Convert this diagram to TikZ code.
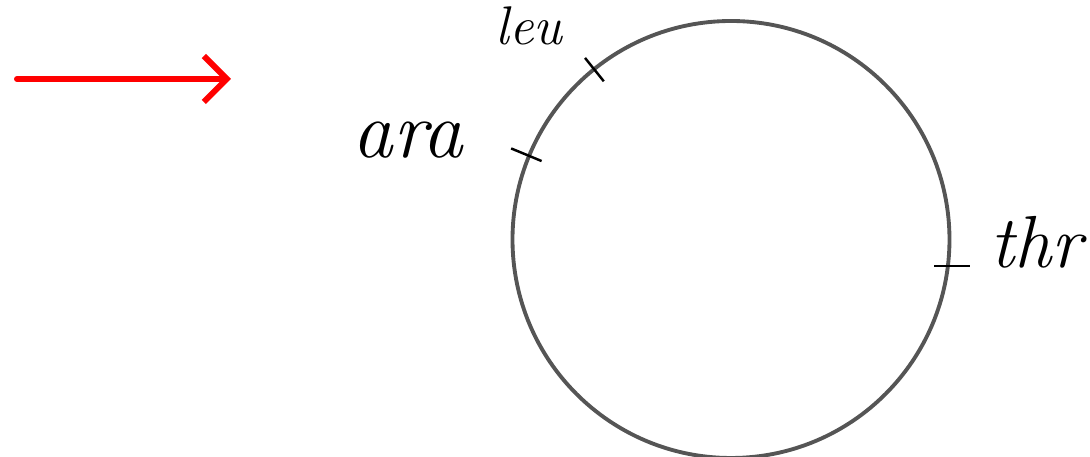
\documentclass[tikz,border=0pt]{standalone}
\usetikzlibrary{arrows.meta}

\begin{document}
\begin{tikzpicture}[>={Straight Barb[length=2.3mm,width=4.6mm]}, font=\itshape]
  \definecolor{ink}{HTML}{000000}
  \definecolor{ringgray}{HTML}{555555}
  \definecolor{red}{HTML}{FF0000}
  \tikzset{tickmark/.style={draw=ink, line width=0.7pt}}
  \useasboundingbox (0,0) rectangle (10.9,-4.57);
  \coordinate (c) at (7.31,-2.395);
  \coordinate (tail) at (0.17,-0.79);
  \coordinate (head) at (2.31,-0.79);
  \draw[->, red, line width=1.7pt, line cap=round, line join=round] (tail) -- (head);
  \draw[ringgray, line width=1.1pt] (c) circle (2.185);
  \draw[tickmark] ([shift={(128.8:2.03)}]c) -- ([shift={(128.8:2.33)}]c);
  \draw[tickmark] ([shift={(157.5:2.05)}]c) -- ([shift={(157.5:2.38)}]c);
  \draw[tickmark] (9.34,-2.66) -- (9.70,-2.66);
  \node[anchor=base, font=\itshape\fontsize{15.5}{19}\selectfont] (leu) at (5.29,-0.45) {leu};
  \node[anchor=base, font=\itshape\fontsize{23}{28}\selectfont] (ara) at (4.08,-1.58) {ara};
  \node[anchor=base, font=\itshape\fontsize{21}{25}\selectfont] (thr) at (10.36,-2.68) {thr};
\end{tikzpicture}
\end{document}
